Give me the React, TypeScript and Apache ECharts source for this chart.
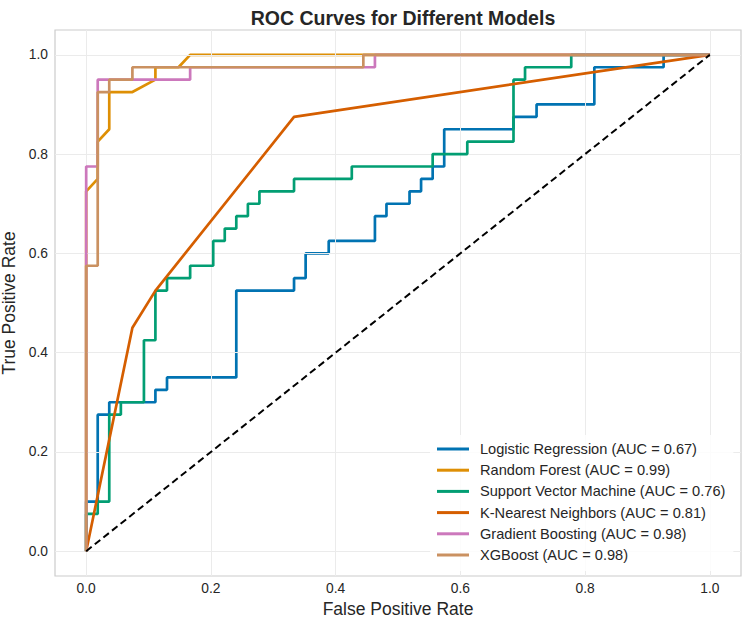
import React, { useEffect, useRef } from "react";
import * as echarts from "echarts";

// Axis ticks
const xTicks = [0, 0.2, 0.4, 0.6, 0.8, 1.0];
const yTicks = [0, 0.2, 0.4, 0.6, 0.8, 1.0];

// ROC curve points per model: false positive rate / true positive rate
const lrFpr = [0, 0, 0.0185, 0.0185, 0.037, 0.037, 0.111, 0.111, 0.1296, 0.1296, 0.2407, 0.2407, 0.3333, 0.3333, 0.3519, 0.3519, 0.3889, 0.3889, 0.463, 0.463, 0.4815, 0.4815, 0.5185, 0.5185, 0.537, 0.537, 0.5556, 0.5556, 0.5741, 0.5741, 0.6852, 0.6852, 0.7222, 0.7222, 0.8148, 0.8148, 0.9259, 0.9259, 1];
const lrTpr = [0, 0.1, 0.1, 0.275, 0.275, 0.3, 0.3, 0.325, 0.325, 0.35, 0.35, 0.525, 0.525, 0.55, 0.55, 0.6, 0.6, 0.625, 0.625, 0.675, 0.675, 0.7, 0.7, 0.725, 0.725, 0.75, 0.75, 0.775, 0.775, 0.85, 0.85, 0.875, 0.875, 0.9, 0.9, 0.975, 0.975, 1, 1];

const rfFpr = [0, 0, 0.0185, 0.0185, 0.037, 0.037, 0.0741, 0.111, 0.111, 0.1481, 0.1667, 1];
const rfTpr = [0, 0.725, 0.75, 0.825, 0.85, 0.925, 0.925, 0.95, 0.975, 0.975, 1, 1];

const svmFpr = [0, 0, 0.0185, 0.0185, 0.037, 0.037, 0.0556, 0.0556, 0.0926, 0.0926, 0.111, 0.111, 0.1296, 0.1296, 0.1667, 0.1667, 0.2037, 0.2037, 0.2222, 0.2222, 0.2407, 0.2407, 0.2593, 0.2593, 0.2778, 0.2778, 0.3333, 0.3333, 0.4259, 0.4259, 0.5556, 0.5556, 0.6111, 0.6111, 0.6852, 0.6852, 0.7037, 0.7037, 0.7778, 0.7778, 1];
const svmTpr = [0, 0.075, 0.075, 0.1, 0.1, 0.275, 0.275, 0.3, 0.3, 0.425, 0.425, 0.525, 0.525, 0.55, 0.55, 0.575, 0.575, 0.625, 0.625, 0.65, 0.65, 0.675, 0.675, 0.7, 0.7, 0.725, 0.725, 0.75, 0.75, 0.775, 0.775, 0.8, 0.8, 0.825, 0.825, 0.95, 0.95, 0.975, 0.975, 1, 1];

const knnFpr = [0, 0.0741, 0.1111, 0.3333, 1];
const knnTpr = [0, 0.45, 0.525, 0.875, 1];

const gbFpr = [0, 0, 0.0185, 0.0185, 0.1667, 0.1667, 0.463, 0.463, 1];
const gbTpr = [0, 0.775, 0.775, 0.95, 0.95, 0.975, 0.975, 1, 1];

const xgbFpr = [0, 0, 0.0185, 0.0185, 0.037, 0.037, 0.0741, 0.0741, 0.4444, 0.4444, 1];
const xgbTpr = [0, 0.575, 0.575, 0.925, 0.925, 0.95, 0.95, 0.975, 0.975, 1, 1];

const chanceFpr = [0, 1];
const chanceTpr = [0, 1];

const modelNames = [
  "Logistic Regression (AUC = 0.67)",
  "Random Forest (AUC = 0.99)",
  "Support Vector Machine (AUC = 0.76)",
  "K-Nearest Neighbors (AUC = 0.81)",
  "Gradient Boosting (AUC = 0.98)",
  "XGBoost (AUC = 0.98)",
];
const modelColors = ["#0173B2", "#DE8F05", "#029E73", "#D55E00", "#CC78BC", "#CA9161"];

const FONT = "'Liberation Sans', Arial, Helvetica, sans-serif";
const TEXT = "#262626";

const zip = (xs: number[], ys: number[]) => xs.map((x, i) => [x, ys[i]]);

export default function App() {
  const ref = useRef<HTMLDivElement>(null);

  useEffect(() => {
    if (!ref.current) return;
    const chart = echarts.init(ref.current, undefined, { renderer: "svg" });

    const curves = [
      zip(lrFpr, lrTpr),
      zip(rfFpr, rfTpr),
      zip(svmFpr, svmTpr),
      zip(knnFpr, knnTpr),
      zip(gbFpr, gbTpr),
      zip(xgbFpr, xgbTpr),
    ];

    const modelSeries = curves.map((data, i) => ({
      name: modelNames[i],
      type: "line",
      data,
      showSymbol: false,
      symbol: "none",
      color: modelColors[i],
      lineStyle: { color: modelColors[i], width: 2.7 },
      z: 3 + i,
      silent: true,
    }));

    chart.setOption({
      animation: false,
      backgroundColor: "#ffffff",
      title: {
        text: "ROC Curves for Different Models",
        left: 398,
        top: 3,
        textAlign: "center",
        textStyle: { fontFamily: FONT, fontSize: 19.5, fontWeight: "bold", color: TEXT },
      },
      grid: {
        left: 55,
        top: 30,
        width: 686,
        height: 546,
        outerBoundsMode: "none",
        containLabel: false,
        show: true,
        borderColor: "#cccccc",
        borderWidth: 1.2,
        backgroundColor: "transparent",
      },
      legend: {
        data: modelNames,
        orient: "vertical",
        left: 430,
        top: 435,
        icon: "rect",
        itemWidth: 32,
        itemHeight: 3,
        itemGap: 5.2,
        padding: [6, 8, 8, 7],
        backgroundColor: "rgba(255,255,255,0.85)",
        borderRadius: 3,
        z: 20,
        textStyle: {
          fontFamily: FONT,
          fontSize: 14.6,
          color: TEXT,
          lineHeight: 16,
          padding: [0, 0, 0, 6],
        },
      },
      xAxis: {
        type: "value",
        min: -0.05,
        max: 1.05,
        name: "False Positive Rate",
        nameLocation: "middle",
        nameGap: 20,
        nameTextStyle: { fontFamily: FONT, fontSize: 17.5, color: TEXT },
        axisLine: { show: false },
        axisTick: { show: false, customValues: xTicks },
        splitLine: { show: false },
        axisLabel: {
          customValues: xTicks,
          formatter: (v: number) => v.toFixed(1),
          margin: 5,
          fontFamily: FONT,
          fontSize: 13.8,
          color: TEXT,
        },
      },
      yAxis: {
        type: "value",
        min: -0.05,
        max: 1.05,
        name: "True Positive Rate",
        nameLocation: "middle",
        nameGap: 27,
        nameTextStyle: { fontFamily: FONT, fontSize: 17.5, color: TEXT },
        axisLine: { show: false },
        axisTick: { show: false, customValues: yTicks },
        splitLine: { show: false },
        axisLabel: {
          customValues: yTicks,
          formatter: (v: number) => v.toFixed(1),
          margin: 7,
          fontFamily: FONT,
          fontSize: 13.8,
          color: TEXT,
        },
      },
      series: [
        {
          name: "gridlines",
          type: "line",
          data: [],
          silent: true,
          z: 1,
          markLine: {
            silent: true,
            symbol: ["none", "none"],
            label: { show: false },
            animation: false,
            lineStyle: { color: "#ebebeb", width: 1, type: "solid" },
            data: [
              ...xTicks.map((v) => ({ xAxis: v })),
              ...yTicks.map((v) => ({ yAxis: v })),
            ],
          },
        },
        ...modelSeries,
        {
          name: "chance",
          type: "line",
          data: zip(chanceFpr, chanceTpr),
          showSymbol: false,
          symbol: "none",
          color: "#000000",
          lineStyle: { color: "#000000", width: 2, type: [7, 4] },
          z: 10,
          silent: true,
        },
      ],
    });

    return () => chart.dispose();
  }, []);

  return (
    <div
      ref={ref}
      style={{ position: "absolute", left: 0, top: 0, width: 750, height: 624 }}
    />
  );
}
